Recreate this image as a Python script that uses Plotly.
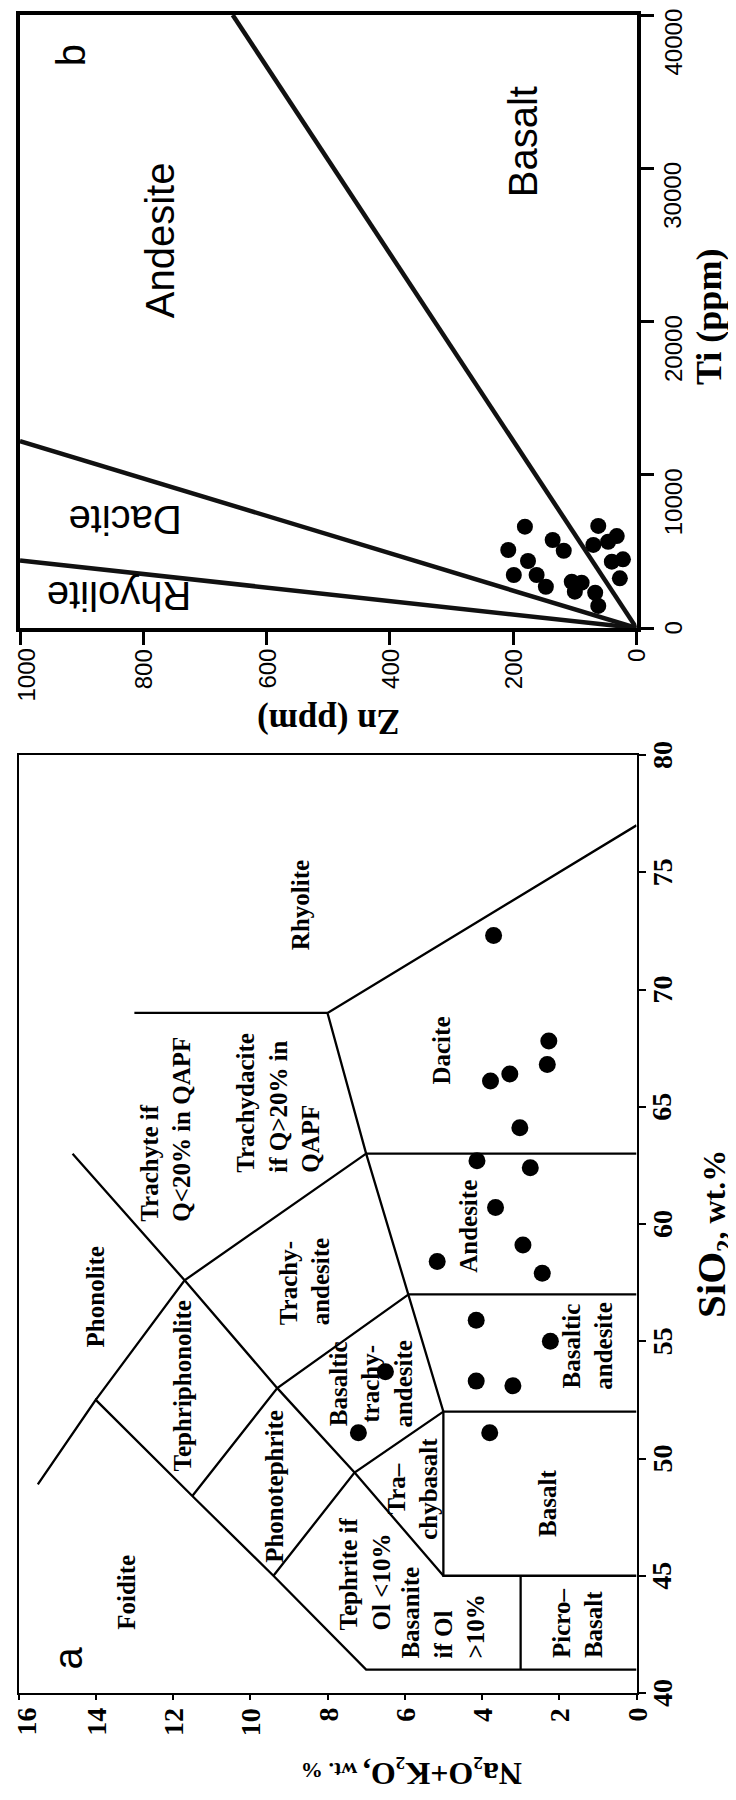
import plotly.graph_objects as go

# The page body adds an 8 px margin; the figure is sized/positioned to compensate
OFF = 8
FW, FH = 736 - OFF, 1800 - OFF

# ---------------- Panel b : Zn (ppm) vs Ti (ppm) ----------------
zn_ticks = [0, 200, 400, 600, 800, 1000]
zn_ticktext = ["0", "200", "400", "600", "800", "1000"]
ti_ticks = [0, 10000, 20000, 30000, 40000]
ti_ticktext = ["0", "10000", "20000", "30000", "40000"]

# boundary lines (Zn, Ti) from origin
b_line_rhy_zn = [0, 1000]
b_line_rhy_ti = [0, 4400]
b_line_dac_zn = [0, 1000]
b_line_dac_ti = [0, 12200]
b_line_and_zn = [0, 655]
b_line_and_ti = [0, 40000]

b_zn = [181, 208, 199, 176, 162, 147, 136, 118, 105, 100, 89, 67, 62, 62, 70, 46, 32, 40, 22, 27]
b_ti = [6610, 5090, 3460, 4370, 3460, 2690, 5740, 5040, 3020, 2370, 2960, 2300, 1440, 6660, 5420, 5630, 6000, 4330, 4480, 3240]

b_labels = ["Andesite", "Basalt", "Dacite", "Rhyolite", "b"]
b_label_zn = [773, 184, 829, 840, 918]
b_label_ti = [25300, 31700, 7050, 2050, 37350]
b_label_angle = [-90, -90, 180, 180, -90]

# ---------------- Panel a : TAS diagram ----------------
alk_ticks = [0, 2, 4, 6, 8, 10, 12, 14, 16]
alk_ticktext = ["0", "2", "4", "6", "8", "10", "12", "14", "16"]
sio2_ticks = [40, 45, 50, 55, 60, 65, 70, 75, 80]
sio2_ticktext = ["40", "45", "50", "55", "60", "65", "70", "75", "80"]

# boundary polylines: (SiO2 list, alkali list)
tas_lines = [
    ([41, 41, 45, 48.4, 52.5, 48.9], [0, 7, 9.4, 11.5, 14, 15.5]),
    ([41, 45], [3, 3]),
    ([45, 45, 52, 57, 63, 69, 77], [0, 5, 5, 5.9, 7, 8, 0]),
    ([52, 52], [0, 5]),
    ([57, 57], [0, 5.9]),
    ([63, 63], [0, 7]),
    ([69, 69], [8, 13]),
    ([45, 49.4, 52], [9.4, 7.3, 5]),
    ([45, 49.4, 53, 57.6, 63], [5, 7.3, 9.3, 11.7, 14.6]),
    ([48.4, 53, 57], [11.5, 9.3, 5.9]),
    ([52.5, 57.6, 63], [14, 11.7, 7]),
]

a_sio2 = [51.1, 51.1, 53.7, 53.3, 53.1, 55.0, 55.9, 58.4, 57.9, 59.1, 60.7, 62.7, 62.4, 64.1, 66.1, 66.4, 66.8, 67.8, 72.3]
a_alk = [7.2, 3.8, 6.5, 4.15, 3.2, 2.23, 4.15, 5.16, 2.44, 2.94, 3.65, 4.13, 2.75, 3.02, 3.78, 3.28, 2.31, 2.27, 3.7]

a_labels = [
    "Foidite", "Phonolite", "Tephriphonolite", "Phonotephrite",
    "Basaltic<br>trachy-<br>andesite", "Tra–<br>chybasalt",
    "Tephrite if<br>Ol &lt;10%", "Basanite<br>if Ol<br>&gt;10%", "Picro–<br>Basalt",
    "Basalt", "Basaltic<br>andesite", "Andesite", "Trachy-<br>andesite",
    "Trachyte if<br>Q&lt;20% in QAPF", "Trachydacite<br>if Q&gt;20% in<br>QAPF",
    "Dacite", "Rhyolite",
]
a_label_alk = [13.2, 14.0, 11.75, 9.38, 6.87, 5.79, 7.03, 5.0, 1.53, 2.32, 1.26, 4.35, 8.58, 12.2, 9.28, 5.06, 8.71]
a_label_sio2 = [44.3, 56.9, 53.1, 48.8, 53.2, 48.7, 42.6, 41.4, 41.4, 48.1, 54.8, 59.9, 55.6, 60.0, 62.1, 67.4, 73.6]
a_label_anchor = ["middle", "middle", "middle", "middle", "middle", "middle",
                  "bottom", "bottom", "bottom", "middle", "middle", "middle",
                  "bottom", "bottom", "bottom", "middle", "middle"]
a_label_align = ["center", "center", "center", "center", "center", "center",
                 "left", "left", "left", "center", "center", "center",
                 "left", "left", "left", "center", "center"]

SERIF = "Liberation Serif"
SANS = "Liberation Sans"


def px_x(p):
    return (p - OFF) / FW


def px_y(p):
    return 1 - (p - OFF) / FH


fig = go.Figure()

# panel b lines
for zx, ty in [(b_line_rhy_zn, b_line_rhy_ti), (b_line_dac_zn, b_line_dac_ti), (b_line_and_zn, b_line_and_ti)]:
    fig.add_trace(go.Scatter(x=zx, y=ty, mode="lines", line=dict(color="#111", width=4.5),
                             xaxis="x", yaxis="y", showlegend=False, hoverinfo="skip"))
fig.add_trace(go.Scatter(x=b_zn, y=b_ti, mode="markers",
                         marker=dict(color="black", size=16),
                         xaxis="x", yaxis="y", showlegend=False))

# panel a lines
for s, a in tas_lines:
    fig.add_trace(go.Scatter(x=a, y=s, mode="lines", line=dict(color="black", width=2.3),
                             xaxis="x2", yaxis="y2", showlegend=False, hoverinfo="skip"))
fig.add_trace(go.Scatter(x=a_alk, y=a_sio2, mode="markers",
                         marker=dict(color="black", size=17),
                         xaxis="x2", yaxis="y2", showlegend=False))

annotations = []
for t, z, ti, ang in zip(b_labels, b_label_zn, b_label_ti, b_label_angle):
    annotations.append(dict(text=t, x=z, y=ti, xref="x", yref="y", showarrow=False,
                            xanchor="center", yanchor="middle",
                            textangle=ang, font=dict(family=SANS, size=40, color="black")))

for t, al, si, anc, ali in zip(a_labels, a_label_alk, a_label_sio2, a_label_anchor, a_label_align):
    annotations.append(dict(text="<b>" + t + "</b>", x=al, y=si, xref="x2", yref="y2",
                            showarrow=False, textangle=-90, xanchor="center", yanchor=anc, align=ali,
                            font=dict(family=SERIF, size=25, color="black")))

annotations.append(dict(text="a", x=14.73, y=41.5, xref="x2", yref="y2", showarrow=False,
                        xanchor="center", yanchor="middle",
                        textangle=-90, font=dict(family=SANS, size=40, color="black")))

# tick labels (rotated like the rest of the figure)
for v, t in zip(zn_ticks, zn_ticktext):
    annotations.append(dict(text=t, x=v, xref="x", y=px_y(647), yref="paper", showarrow=False,
                            xanchor="center", yanchor="top", textangle=-90,
                            xshift=(6 if v == 1000 else 0),
                            font=dict(family=SANS, size=24, color="black")))
for v, t in zip(ti_ticks, ti_ticktext):
    annotations.append(dict(text=t, x=px_x(673), xref="paper", y=v, yref="y", showarrow=False,
                            xanchor="center", yanchor="top", yshift=8, textangle=-90,
                            font=dict(family=SANS, size=24, color="black")))
for v, t in zip(alk_ticks, alk_ticktext):
    annotations.append(dict(text="<b>" + t + "</b>", x=v, xref="x2", y=px_y(1706), yref="paper",
                            showarrow=False, xanchor="center", yanchor="top", textangle=-90,
                            xshift=(7 if v == 16 else 0),
                            font=dict(family=SERIF, size=28, color="black")))
for v, t in zip(sio2_ticks, sio2_ticktext):
    annotations.append(dict(text="<b>" + t + "</b>", x=px_x(662), xref="paper", y=v, yref="y2",
                            showarrow=False, xanchor="center", yanchor="middle", textangle=-90,
                            font=dict(family=SERIF, size=28, color="black")))

# axis titles
annotations.append(dict(text="<b>Ti (ppm)</b>", x=px_x(709), y=px_y(317), xref="paper", yref="paper",
                        xanchor="center", yanchor="middle",
                        showarrow=False, textangle=-90, font=dict(family=SERIF, size=36, color="black")))
annotations.append(dict(text="<b>Zn (ppm)</b>", x=px_x(329), y=px_y(722), xref="paper", yref="paper",
                        xanchor="center", yanchor="middle",
                        showarrow=False, textangle=180, font=dict(family=SERIF, size=35, color="black")))
annotations.append(dict(text="<b>SiO₂<span style='font-size:32px'>, wt.%</span></b>",
                        x=px_x(711), y=px_y(1234), xref="paper", yref="paper",
                        xanchor="center", yanchor="middle",
                        showarrow=False, textangle=-90, font=dict(family=SERIF, size=41, color="black")))
annotations.append(dict(text="<b>Na₂O+K₂O,<span style='font-size:22px'> wt. %</span></b>",
                        x=px_x(412), y=px_y(1774), xref="paper", yref="paper",
                        xanchor="center", yanchor="middle",
                        showarrow=False, textangle=180, font=dict(family=SERIF, size=32, color="black")))

axis_common = dict(showgrid=False, zeroline=False, showline=True, mirror=True, linecolor="black",
                   ticks="outside", tickcolor="black", automargin=False, tickmode="array",
                   showticklabels=False)

fig.update_layout(
    width=FW, height=FH,
    margin=dict(l=0, r=0, t=0, b=0, pad=0, autoexpand=False),
    paper_bgcolor="white", plot_bgcolor="white",
    showlegend=False,
    xaxis=dict(**axis_common, domain=[px_x(20), px_x(636.5)], range=[1000, 0], anchor="y",
               tickvals=zn_ticks, ticklen=13, tickwidth=3, linewidth=3.5),
    yaxis=dict(**axis_common, domain=[px_y(628), px_y(15)], range=[0, 40000], anchor="x", side="right",
               tickvals=ti_ticks, ticklen=14, tickwidth=3, linewidth=3.5),
    xaxis2=dict(**axis_common, domain=[px_x(18.5), px_x(636.5)], range=[16, 0], anchor="y2",
                tickvals=alk_ticks, ticklen=5, tickwidth=1.5, linewidth=2),
    yaxis2=dict(**axis_common, domain=[px_y(1693), px_y(755)], range=[40, 80], anchor="x2", side="right",
                tickvals=sio2_ticks, ticklen=7, tickwidth=1.5, linewidth=2),
    annotations=annotations,
)

fig.write_html("out.html")
